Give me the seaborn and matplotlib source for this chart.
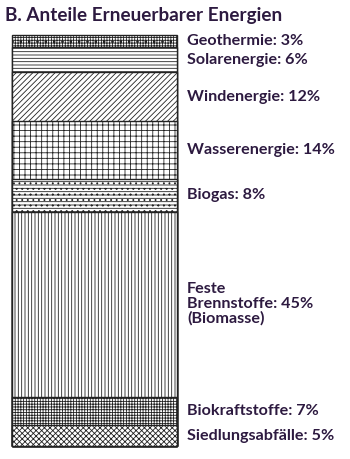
import matplotlib
matplotlib.use("Agg")
import matplotlib.pyplot as plt
import seaborn as sns
import numpy as np
import pandas as pd

# Data (bottom to top)
categories = ["Siedlungsabfälle", "Biokraftstoffe", "Feste Brennstoffe", "Biogas",
              "Wasserenergie", "Windenergie", "Solarenergie", "Geothermie"]
values = [5, 7, 45, 8, 14, 12, 6, 3]
labels = ["Siedlungsabfälle: 5%", "Biokraftstoffe: 7%", "Feste\nBrennstoffe: 45%\n(Biomasse)",
          "Biogas: 8%", "Wasserenergie: 14%", "Windenergie: 12%", "Solarenergie: 6%",
          "Geothermie: 3%"]
hatches = ["xxxxxx", "++++++", "|||||", "-----...", "+++", "//////", "-----", "++++++.."]
title = "B. Anteile Erneuerbarer Energien"

sns.set_theme(style="white")
plt.rcParams["font.family"] = ["Lato", "DejaVu Sans"]
plt.rcParams["hatch.linewidth"] = 0.6
plt.rcParams["hatch.color"] = "#444444"

W, H = 350, 459
fig = plt.figure(figsize=(W / 100, H / 100), dpi=100)
ax = fig.add_axes([12 / W, (H - 446) / H, 165 / W, 411 / H])

cum = np.cumsum(values)
# draw from top cumulative to bottom so smaller stacks overlay
for i in range(len(categories) - 1, -1, -1):
    sub = pd.DataFrame({"x": ["bar"], "y": [cum[i]]})
    sns.barplot(data=sub, x="x", y="y", ax=ax, color="white", width=0.8,
                edgecolor="#222222", linewidth=1.0, hatch=hatches[i], clip_on=False,
                saturation=1)

ax.set_xlim(-0.4, 0.4)
ax.set_ylim(0, 100)
ax.axis("off")

txtcolor = "#2d1a40"
for i, lab in enumerate(labels):
    yc = cum[i] - values[i] / 2
    ax.text(1.06, yc, lab, transform=ax.get_yaxis_transform(), ha="left", va="center",
            fontsize=11.6, fontweight="bold", color=txtcolor, linespacing=1.05,
            clip_on=False)

fig.text(5 / W, 1 - 16 / H, title, ha="left", va="center", fontsize=13.6,
         fontweight="bold", color=txtcolor)

fig.savefig("out.png", dpi=100)
